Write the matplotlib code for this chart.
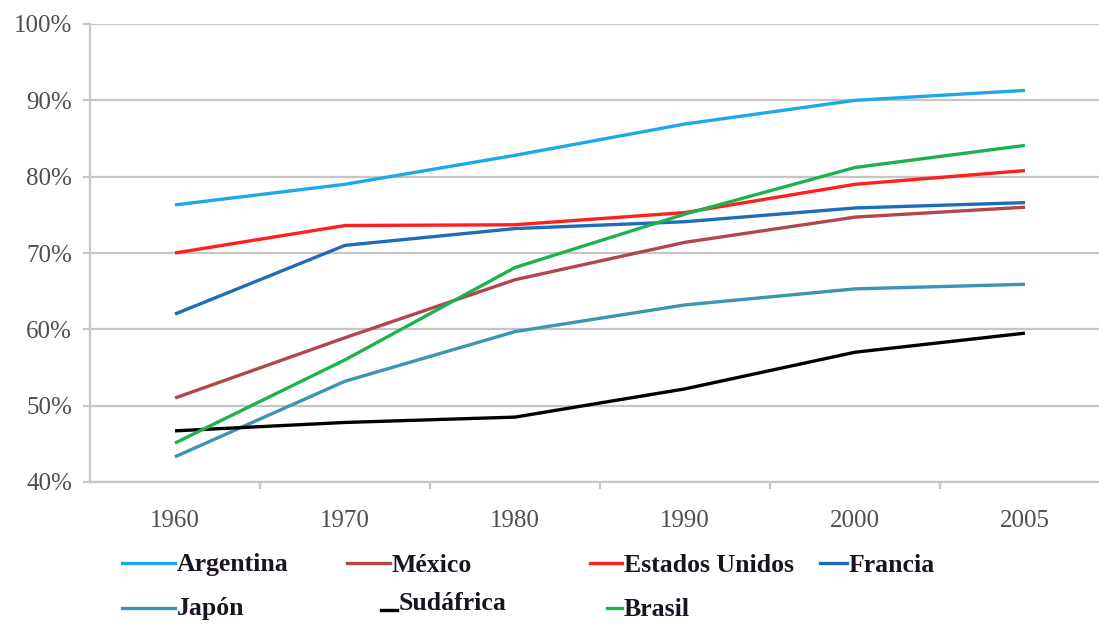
import matplotlib
matplotlib.use("Agg")
import matplotlib.pyplot as plt
from matplotlib.lines import Line2D

# Share of urban population (%) by country
years = ["1960", "1970", "1980", "1990", "2000", "2005"]
argentina = [76.3, 79.0, 82.8, 86.9, 90.0, 91.3]
mexico = [51.0, 58.9, 66.5, 71.4, 74.7, 76.0]
estados_unidos = [70.0, 73.6, 73.7, 75.3, 79.0, 80.8]
francia = [62.0, 71.0, 73.2, 74.1, 75.9, 76.6]
japon = [43.3, 53.2, 59.7, 63.2, 65.3, 65.9]
sudafrica = [46.7, 47.8, 48.5, 52.2, 57.0, 59.5]
brasil = [45.1, 56.0, 68.1, 75.1, 81.2, 84.1]

y_ticks = [40, 50, 60, 70, 80, 90, 100]

series = [
    ("Argentina", argentina, "#1FA8E8"),
    ("México", mexico, "#B0474C"),
    ("Estados Unidos", estados_unidos, "#FF1F1F"),
    ("Francia", francia, "#1F6CB9"),
    ("Japón", japon, "#3B95B3"),
    ("Sudáfrica", sudafrica, "#000000"),
    ("Brasil", brasil, "#1DB24F"),
]

W, H = 1099, 626
fig = plt.figure(figsize=(W / 100, H / 100), dpi=100)
fig.patch.set_facecolor("white")

ax = fig.add_axes([90 / W, 1 - 482 / H, 1020 / W, 458 / H])
x = list(range(len(years)))
for name, vals, col in series:
    ax.plot(x, vals, color=col, lw=2.4, solid_capstyle="butt", zorder=3)

grid_col = "#C6C6C6"
ax.set_xlim(-0.5, len(years) - 0.5)
ax.set_ylim(40, 100)
ax.set_yticks(y_ticks)
ax.set_yticklabels([f"{v}%" for v in y_ticks])
ax.yaxis.grid(True, color=grid_col, lw=1.6, zorder=0)
ax.set_axisbelow(True)

ax.set_xticks(x)
ax.set_xticklabels(years)
ax.set_xticks([i + 0.5 for i in range(len(years) - 1)], minor=True)

for s in ["top", "right"]:
    ax.spines[s].set_visible(False)
for s in ["left", "bottom"]:
    ax.spines[s].set_color(grid_col)
    ax.spines[s].set_linewidth(1.6)

ax.tick_params(axis="x", which="major", length=0, pad=20, labelcolor="#4F4F4F")
ax.tick_params(axis="x", which="minor", length=5, width=1.6, color=grid_col, direction="out")
ax.tick_params(axis="y", length=5, width=1.6, color=grid_col, pad=8, labelcolor="#4F4F4F")
for lab in ax.get_xticklabels() + ax.get_yticklabels():
    lab.set_fontfamily("Liberation Serif")
    lab.set_fontsize(18)

# Legend laid out in two rows under the plot: (line start, line end, line y, text y)
legend_layout = {
    "Argentina": (122, 175, 563, 564),
    "México": (347, 390, 563, 566),
    "Estados Unidos": (590, 622, 563, 566),
    "Francia": (820, 847, 563, 565),
    "Japón": (122, 175, 608, 609),
    "Sudáfrica": (381, 397, 610, 604),
    "Brasil": (607, 622, 608, 609),
}
for name, vals, col in series:
    x0, x1, yy, ty = legend_layout[name]
    fy = 1 - yy / H
    fig.add_artist(Line2D([x0 / W, x1 / W], [fy, fy], color=col, lw=2.4,
                          transform=fig.transFigure))
    fig.text((x1 + 2) / W, 1 - ty / H, name, ha="left", va="center",
             family="Liberation Serif", weight="bold", size=18.5, color="#1A1420")

fig.savefig("out.png", dpi=100, facecolor="white")
